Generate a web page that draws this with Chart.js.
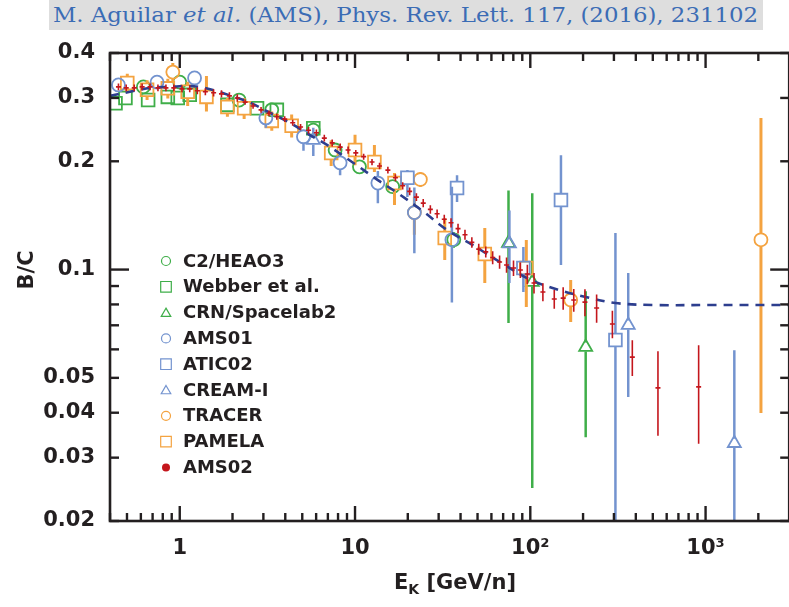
<!DOCTYPE html>
<html><head><meta charset="utf-8">
<script src="https://cdn.jsdelivr.net/npm/chart.js@4.4.1/dist/chart.umd.min.js"></script>
<style>
html,body{margin:0;padding:0;background:#fff;overflow:hidden;width:789px;height:607px;}
#band{position:absolute;left:49px;top:0;width:714px;height:30px;background:#dedede;}
#cite{position:absolute;left:53px;top:3px;font-family:"DejaVu Serif",serif;font-size:20px;line-height:24px;color:#3b6cb5;white-space:nowrap;transform-origin:0 0;}
#wrap{position:absolute;left:0;top:0;width:800px;height:607px;}
</style></head><body>
<div id="band"></div>
<div id="cite">M. Aguilar <i>et al.</i> (AMS), Phys. Rev. Lett. 117, (2016), 231102</div>
<div id="wrap"><canvas id="c" width="800" height="607"></canvas></div>
<script>
// ---------- tick labels ----------
const xTicks = [1, 10, 100, 1000];
const xTickLabels = ['1', '10', '10²', '10³'];
const yTicks = [0.02, 0.03, 0.04, 0.05, 0.1, 0.2, 0.3, 0.4];
const yTickLabels = ['0.02', '0.03', '0.04', '0.05', '0.1', '0.2', '0.3', '0.4'];
const xTitleMain = 'E', xTitleSub = 'K', xTitleRest = ' [GeV/n]';
const yTitle = 'B/C';

// ---------- model (dashed) ----------
const modelE  = [0.4,0.52,0.68,0.88,1.11,1.38,1.68,2.04,2.49,3.22,4.18,5.42,7.03,10,13.5,17.5,24.3,33.5,46.9,68.5,101,146,207,306,515,1124,3000];
const modelBC = [0.304,0.312,0.320,0.322,0.324,0.320,0.312,0.302,0.292,0.274,0.257,0.238,0.221,0.1965,0.1773,0.1632,0.1455,0.1288,0.117,0.1043,0.0935,0.0877,0.0839,0.0807,0.0797,0.0797,0.0797];

// ---------- C2/HEAO3 ----------
const heaoE  = [0.62,1.0,2.18,3.35,5.78,7.7,10.6,16.4,36.6];
const heaoBC = [0.322,0.332,0.296,0.278,0.244,0.215,0.193,0.170,0.121];
const heaoErr= [0.010,0.010,0.008,0.008,0.007,0.006,0.006,0.006,0.006];

// ---------- Webber et al. ----------
const webE  = [0.43,0.49,0.66,0.855,0.974,1.14,1.87,2.76,3.58,5.78];
const webBC = [0.290,0.300,0.296,0.302,0.300,0.306,0.287,0.281,0.278,0.247];
const webErr= [0.005,0.005,0.005,0.005,0.005,0.005,0.005,0.005,0.005,0.005];

// ---------- CRN/Spacelab2 ----------
const crnE  = [75.1,102.6,207];
const crnBC = [0.1185,0.0923,0.0609];
const crnUpper = [0.166,0.163,0.087];
const crnLower = [0.071,0.0247,0.0342];

// ---------- AMS01 ----------
const ams01E  = [0.447,0.742,1.215,3.10,5.08,8.22,13.5,21.8,35.7];
const ams01BC = [0.326,0.332,0.341,0.264,0.234,0.198,0.174,0.144,0.121];
const ams01Upper = [0.336,0.342,0.352,0.274,0.244,0.210,0.188,0.169,0.170];
const ams01Lower = [0.316,0.322,0.330,0.248,0.214,0.183,0.153,0.111,0.081];

// ---------- ATIC02 ----------
const aticE  = [19.9,38.2,91.3,149.6,306];
const aticBC = [0.180,0.1685,0.101,0.156,0.0637];
const aticUpper = [0.189,0.183,0.1156,0.208,0.1264];
const aticLower = [0.159,0.154,0.0866,0.103,0.005];

// ---------- CREAM-I ----------
const creamE  = [5.78,76,362,1459];
const creamBC = [0.229,0.118,0.0701,0.0329];
const creamUpper = [0.248,0.146,0.0978,0.0597];
const creamLower = [0.207,0.0918,0.0442,0.005];

// ---------- TRACER ----------
const tracerE  = [0.913,21.8,23.6,170,2070];
const tracerBC = [0.354,0.144,0.178,0.0823,0.121];
const tracerUpper = [0.375,0.159,0.186,0.0936,0.264];
const tracerLower = [0.333,0.125,0.170,0.0715,0.0399];

// ---------- PAMELA ----------
const pamE  = [0.502,0.651,0.855,1.11,1.42,1.87,2.33,3.35,4.35,7.31,10.0,12.9,16.8,32.5,55,94.9];
const pamBC = [0.330,0.316,0.319,0.312,0.302,0.283,0.281,0.259,0.251,0.211,0.215,0.199,0.174,0.1224,0.1105,0.101];
const pamUpper = [0.350,0.336,0.339,0.333,0.345,0.300,0.300,0.275,0.270,0.229,0.237,0.222,0.1855,0.139,0.1304,0.1208];
const pamLower = [0.310,0.296,0.299,0.285,0.275,0.266,0.262,0.243,0.233,0.194,0.195,0.1867,0.1512,0.1063,0.0918,0.0787];

// ---------- AMS02 ----------
const amsE = [0.447,0.495,0.550,0.610,0.677,0.751,0.834,0.925,1.03,1.14,1.26,1.40,1.56,1.73,1.92,2.13,2.36,2.62,2.91,3.23,3.58,3.97,4.41,4.89,5.43,6.02,6.68,7.41,8.23,9.13,10.1,11.2,12.5,13.8,15.4,17.0,18.7,20.5,22.4,24.5,26.9,29.4,32.3,35.3,38.7,42.4,46.4,50.8,55.7,61.0,66.8,73.2,80.2,87.8,96.2,105,118,137,154,177,205,239,294,382,535,913];
const amsBC = [0.322,0.320,0.320,0.322,0.322,0.320,0.320,0.320,0.318,0.318,0.314,0.312,0.310,0.308,0.304,0.300,0.292,0.285,0.278,0.272,0.266,0.262,0.256,0.249,0.244,0.240,0.232,0.225,0.219,0.215,0.211,0.206,0.199,0.194,0.189,0.180,0.171,0.165,0.159,0.153,0.147,0.143,0.138,0.135,0.130,0.125,0.119,0.114,0.112,0.108,0.105,0.103,0.101,0.0997,0.0972,0.0918,0.0866,0.0828,0.0833,0.0823,0.0812,0.0782,0.0706,0.0571,0.0469,0.0472];
const amsErr = [0.007,0.007,0.007,0.007,0.007,0.007,0.007,0.007,0.007,0.007,0.007,0.007,0.007,0.007,0.007,0.007,
  0.005,0.005,0.005,0.005,0.005,0.005,0.005,0.005,0.005,0.005,0.005,0.005,0.005,0.005,
  0.004,0.004,0.004,0.004,0.004,0.004,0.004,0.004,0.004,0.004,0.004,0.004,0.004,0.004,0.004,
  0.004,0.004,0.004,0.004,0.0045,0.0045,0.005,0.005,0.005,0.006,0.006,
  0.005,0.005,0.006,0.006,0.007,0.007,
  0.0062,0.0065,0.0124,0.0144];

// ---------- colours ----------
const GREEN = '#3fae49', BLUE = '#7393cf', ORANGE = '#f4a340', RED = '#c4161c', NAVY = '#2d3e8e', INK = '#231f20';

function withBounds(E, BC, up, lo) { return E.map((e, i) => ({x: e, y: BC[i], yMax: up[i], yMin: lo[i]})); }
function withErr(E, BC, err) { return E.map((e, i) => ({x: e, y: BC[i], yMax: BC[i] + err[i], yMin: BC[i] - err[i]})); }

function series(label, data, color, style, radius, order, lw) {
  return {label, data, borderColor: color, backgroundColor: 'rgba(0,0,0,0)', pointStyle: style,
    pointRadius: radius, pointBorderWidth: 1.8, showLine: false, order,
    errBars: true, errColor: color, errWidth: lw, errGap: radius * (style === 'rect' ? 0.72 : (style === 'triangle' ? 0.6 : 1))};
}

const datasets = [
  {label: 'model', data: modelE.map((e, i) => ({x: e, y: modelBC[i]})), showLine: true, borderColor: NAVY,
   borderWidth: 2.6, borderDash: [9, 7], pointRadius: 0, tension: 0.35, order: 1, fill: false},
  series('C2/HEAO3', withErr(heaoE, heaoBC, heaoErr), GREEN, 'circle', 6.5, 3, 2.5),
  series('Webber et al.', withErr(webE, webBC, webErr), GREEN, 'rect', 9, 3, 2.5),
  series('CRN/Spacelab2', withBounds(crnE, crnBC, crnUpper, crnLower), GREEN, 'triangle', 7.5, 3, 2.5),
  series('AMS01', withBounds(ams01E, ams01BC, ams01Upper, ams01Lower), BLUE, 'circle', 6.5, 2, 2.5),
  series('ATIC02', withBounds(aticE, aticBC, aticUpper, aticLower), BLUE, 'rect', 9, 2, 2.5),
  series('CREAM-I', withBounds(creamE, creamBC, creamUpper, creamLower), BLUE, 'triangle', 7.5, 2, 2.5),
  series('TRACER', withBounds(tracerE, tracerBC, tracerUpper, tracerLower), ORANGE, 'circle', 6.5, 2, 3),
  series('PAMELA', withBounds(pamE, pamBC, pamUpper, pamLower), ORANGE, 'rect', 9, 2, 3),
  {label: 'AMS02', data: withErr(amsE, amsBC, amsErr), borderColor: RED, backgroundColor: RED, pointStyle: 'line',
   pointRadius: 2.5, pointBorderWidth: 1.6, showLine: false, order: 0, errBars: true, errColor: RED, errWidth: 1.6, errGap: 0}
];
const legendOrder = [1, 2, 3, 4, 5, 6, 7, 8, 9];

const errorBars = {
  id: 'errorBars',
  beforeDatasetDraw(chart, args) {
    const ds = chart.data.datasets[args.index];
    if (!ds.errBars) return;
    const {ctx, chartArea: a} = chart, xs = chart.scales.x, ys = chart.scales.y;
    ctx.save();
    ctx.beginPath(); ctx.rect(a.left, a.top, a.right - a.left, a.bottom - a.top); ctx.clip();
    ctx.strokeStyle = ds.errColor; ctx.lineWidth = ds.errWidth; ctx.lineCap = 'butt';
    ds.data.forEach(p => {
      const px = xs.getPixelForValue(p.x), py = ys.getPixelForValue(p.y);
      const pt = ys.getPixelForValue(p.yMax), pb = ys.getPixelForValue(Math.max(p.yMin, 1e-4));
      const g = ds.errGap;
      ctx.beginPath();
      if (pt < py - g) { ctx.moveTo(px, pt); ctx.lineTo(px, py - g); }
      if (pb > py + g) { ctx.moveTo(px, py + g); ctx.lineTo(px, pb); }
      ctx.stroke();
    });
    ctx.restore();
  }
};

function drawMarker(ctx, style, x, y, r, color, filled) {
  ctx.beginPath();
  if (style === 'circle') ctx.arc(x, y, r, 0, Math.PI * 2);
  else if (style === 'rect') { const s = r * Math.SQRT1_2; ctx.rect(x - s, y - s, 2 * s, 2 * s); }
  else if (style === 'triangle') {
    for (let k = 0; k < 3; k++) { const ang = k * 2 * Math.PI / 3; const px = x + Math.sin(ang) * r, py = y - Math.cos(ang) * r; k ? ctx.lineTo(px, py) : ctx.moveTo(px, py); }
    ctx.closePath();
  }
  if (filled) { ctx.fillStyle = color; ctx.fill(); } else { ctx.strokeStyle = color; ctx.lineWidth = 1.2; ctx.stroke(); }
}

const decor = {
  id: 'decor',
  afterDraw(chart) {
    const {ctx, chartArea: a} = chart, xs = chart.scales.x, ys = chart.scales.y;
    ctx.save();
    // legend
    ctx.font = 'bold 18px "DejaVu Sans"'; ctx.textBaseline = 'middle'; ctx.textAlign = 'left'; ctx.fillStyle = INK;
    legendOrder.forEach((di, i) => {
      const ds = chart.data.datasets[di]; const y = 261 + i * 25.8;
      if (ds.label === 'AMS02') drawMarker(ctx, 'circle', 166, y, 4, RED, true);
      else drawMarker(ctx, ds.pointStyle, 166, y + (ds.pointStyle === 'triangle' ? 1 : 0), ds.pointStyle === 'rect' ? 7.5 : (ds.pointStyle === 'triangle' ? 5.5 : 4.5), ds.borderColor, false);
      ctx.fillStyle = INK; ctx.fillText(ds.label, 183, y + 1);
    });
    // frame
    ctx.strokeStyle = INK; ctx.lineWidth = 2.6;
    ctx.strokeRect(a.left, a.top, a.right - a.left, a.bottom - a.top);
    const seg = (x1, y1, x2, y2) => { ctx.beginPath(); ctx.moveTo(x1, y1); ctx.lineTo(x2, y2); ctx.stroke(); };
    ctx.lineWidth = 2.4;
    [0.1, 1, 10, 100, 1000].forEach(d => {
      for (let k = 1; k <= 9; k++) {
        const v = k * d; if (v < xs.min * 0.999 || v > xs.max * 1.001) continue;
        const px = xs.getPixelForValue(v); const L = k === 1 ? 15 : 8;
        seg(px, a.bottom, px, a.bottom - L); seg(px, a.top, px, a.top + L);
      }
    });
    [0.01, 0.1].forEach(d => {
      for (let k = 1; k <= 9; k++) {
        const v = k * d; if (v < ys.min * 0.999 || v > ys.max * 1.001) continue;
        const py = ys.getPixelForValue(v); const L = (d === 0.1 && k === 1) ? 19 : 9;
        seg(a.left, py, a.left + L, py); seg(a.right, py, a.right - L, py);
      }
    });
    // axis titles
    ctx.fillStyle = INK; ctx.textBaseline = 'alphabetic';
    ctx.font = 'bold 21px "DejaVu Sans"';
    const w1 = ctx.measureText(xTitleMain).width, w3 = ctx.measureText(xTitleRest).width;
    ctx.font = 'bold 14px "DejaVu Sans"'; const w2 = ctx.measureText(xTitleSub).width;
    let x0 = 455 - (w1 + w2 + w3) / 2; const base = 589;
    ctx.font = 'bold 21px "DejaVu Sans"'; ctx.fillText(xTitleMain, x0, base);
    ctx.font = 'bold 14px "DejaVu Sans"'; ctx.fillText(xTitleSub, x0 + w1, base + 5);
    ctx.font = 'bold 21px "DejaVu Sans"'; ctx.fillText(xTitleRest, x0 + w1 + w2, base);
    ctx.translate(28, 270); ctx.rotate(-Math.PI / 2);
    ctx.textAlign = 'center'; ctx.textBaseline = 'middle'; ctx.fillText(yTitle, 0, 0);
    ctx.restore();
  }
};

const tickFont = {family: '"DejaVu Sans"', weight: 'bold', size: 21};
new Chart(document.getElementById('c'), {
  type: 'scatter',
  data: {datasets},
  options: {
    responsive: false, animation: false, devicePixelRatio: 1, events: [],
    layout: {padding: {left: 0, right: 5, top: 53, bottom: 0}},
    plugins: {legend: {display: false}, tooltip: {enabled: false}},
    scales: {
      x: {type: 'logarithmic', position: 'bottom', min: 0.4, max: 3000, bounds: 'data',
        grid: {display: false, drawTicks: false}, border: {display: false},
        ticks: {autoSkip: false, maxRotation: 0, padding: 15, font: tickFont, color: INK, callback: (v, i) => xTickLabels[i]},
        afterBuildTicks: s => { s.ticks = xTicks.map(v => ({value: v})); },
        afterFit: s => { s.height = 86; s.paddingLeft = 0; s.paddingRight = 0; }},
      y: {type: 'logarithmic', position: 'left', min: 0.02, max: 0.4, bounds: 'data',
        grid: {display: false, drawTicks: false}, border: {display: false},
        ticks: {autoSkip: false, padding: 15, font: tickFont, color: INK, callback: (v, i) => yTickLabels[i]},
        afterBuildTicks: s => { s.ticks = yTicks.map(v => ({value: v})); },
        afterFit: s => { s.width = 110; s.paddingTop = 0; s.paddingBottom = 0; }}
    }
  },
  plugins: [errorBars, decor]
});

function fitCite() {
  const el = document.getElementById('cite');
  el.style.transform = 'none';
  const w = el.getBoundingClientRect().width;
  el.style.transform = 'scaleX(' + (705 / w) + ')';
}
fitCite();
if (document.fonts && document.fonts.ready) document.fonts.ready.then(fitCite);
</script>
</body></html>
